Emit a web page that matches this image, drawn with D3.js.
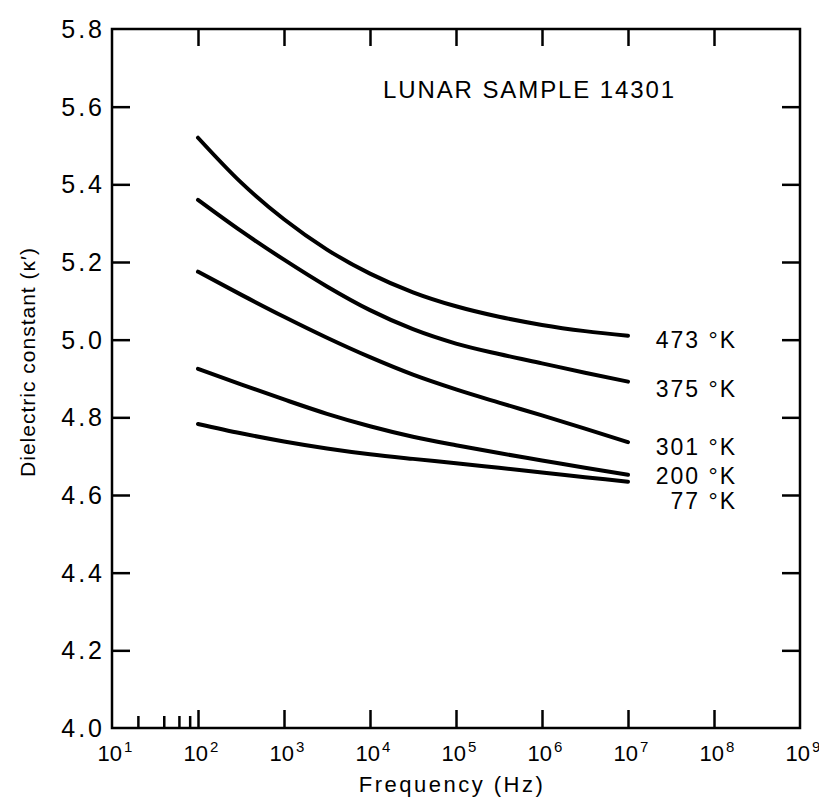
<!DOCTYPE html>
<html>
<head>
<meta charset="utf-8">
<script src="https://cdnjs.cloudflare.com/ajax/libs/d3/7.8.5/d3.min.js"></script>
<style>
  body { margin: 0; background: #fff; }
  svg { display: block; }
  text { font-family: "Liberation Sans", Arial, sans-serif; fill: #000; }
</style>
</head>
<body>
<svg></svg>
<script>
// frequency points (Hz), half-decade steps
const freqs = [1e2, 3.16e2, 1e3, 3.16e3, 1e4, 3.16e4, 1e5, 3.16e5, 1e6, 3.16e6, 1e7];

// dielectric constant for each temperature
const k473 = [5.52, 5.405, 5.31, 5.232, 5.17, 5.122, 5.086, 5.059, 5.038, 5.022, 5.01];
const k375 = [5.36, 5.28, 5.206, 5.137, 5.076, 5.027, 4.99, 4.963, 4.939, 4.915, 4.892];
const k301 = [5.175, 5.116, 5.059, 5.005, 4.955, 4.91, 4.872, 4.838, 4.805, 4.771, 4.736];
const k200 = [4.925, 4.885, 4.846, 4.809, 4.777, 4.75, 4.728, 4.708, 4.689, 4.67, 4.652];
const k77  = [4.783, 4.759, 4.738, 4.72, 4.705, 4.693, 4.682, 4.67, 4.658, 4.646, 4.634];

const seriesLabels = ["473 °K", "375 °K", "301 °K", "200 °K", "77 °K"];
const labelAt = [4.979, 4.852, 4.703, 4.628, 4.565];   // label baselines in κ' units

const xTickExp = [1, 2, 3, 4, 5, 6, 7, 8, 9];
const xMinor = [20, 40, 60, 80];
const yTicks = [4.0, 4.2, 4.4, 4.6, 4.8, 5.0, 5.2, 5.4, 5.6, 5.8];

const W = 819, H = 804;
const mLeft = 112, mRight = 800, mTop = 29, mBottom = 728;

const svg = d3.select("svg").attr("width", W).attr("height", H);

const x = d3.scaleLog().domain([1e1, 1e9]).range([mLeft, mRight]);
const y = d3.scaleLinear().domain([4.0, 5.8]).range([mBottom, mTop]);

// frame
svg.append("rect")
  .attr("x", mLeft).attr("y", mTop)
  .attr("width", mRight - mLeft).attr("height", mBottom - mTop)
  .attr("fill", "none").attr("stroke", "#000").attr("stroke-width", 2.5);

// inward ticks with d3 axes
const majors = xTickExp.slice(1, -1).map(e => Math.pow(10, e));
function styleAxis(g) {
  g.select(".domain").remove();
  g.selectAll(".tick line").attr("stroke", "#000").attr("stroke-width", 2.5);
  g.selectAll(".tick text").remove();
}
svg.append("g").attr("transform", `translate(0,${mBottom})`)
  .call(d3.axisBottom(x).tickValues(majors).tickSize(-18)).call(styleAxis);
svg.append("g").attr("transform", `translate(0,${mBottom})`)
  .call(d3.axisBottom(x).tickValues(xMinor).tickSize(-12)).call(styleAxis);
svg.append("g").attr("transform", `translate(0,${mTop})`)
  .call(d3.axisTop(x).tickValues(majors).tickSize(-17)).call(styleAxis);
const yInner = yTicks.slice(1, -1);
svg.append("g").attr("transform", `translate(${mLeft},0)`)
  .call(d3.axisLeft(y).tickValues(yInner).tickSize(-18)).call(styleAxis);
svg.append("g").attr("transform", `translate(${mRight},0)`)
  .call(d3.axisRight(y).tickValues(yInner).tickSize(-18)).call(styleAxis);

// y tick labels
svg.append("g").selectAll("text")
  .data(yTicks).enter().append("text")
  .attr("x", mLeft - 7)
  .attr("y", d => y(d) + 9)
  .attr("text-anchor", "end")
  .attr("font-size", 25)
  .attr("letter-spacing", 3)
  .text(d => d.toFixed(1));

// x tick labels 10^n
const xl = svg.append("g").selectAll("text")
  .data(xTickExp).enter().append("text")
  .attr("x", d => x(Math.pow(10, d)) + 3)
  .attr("y", 761)
  .attr("text-anchor", "middle")
  .attr("font-size", 22);
xl.append("tspan").text("10");
xl.append("tspan").attr("font-size", 15).attr("dx", 2).attr("dy", -9).text(d => d);

// axis titles
svg.append("text")
  .attr("x", 452).attr("y", 792)
  .attr("text-anchor", "middle")
  .attr("font-size", 22)
  .attr("letter-spacing", 2.5)
  .text("Frequency (Hz)");

svg.append("text")
  .attr("transform", "translate(35,362) rotate(-90)")
  .attr("text-anchor", "middle")
  .attr("font-size", 21)
  .attr("letter-spacing", 1)
  .text("Dielectric constant (κ′)");

// sample title
svg.append("text")
  .attr("x", 383).attr("y", 98)
  .attr("font-size", 24)
  .attr("letter-spacing", 1.9)
  .text("LUNAR SAMPLE 14301");

// curves
const series = [k473, k375, k301, k200, k77];
const line = d3.line()
  .x((d, i) => x(freqs[i]))
  .y(d => y(d))
  .curve(d3.curveMonotoneX);

svg.append("g").selectAll("path")
  .data(series).enter().append("path")
  .attr("d", line)
  .attr("fill", "none")
  .attr("stroke", "#000")
  .attr("stroke-width", 4)
  .attr("stroke-linecap", "round");

// temperature labels
svg.append("g").selectAll("text")
  .data(seriesLabels).enter().append("text")
  .attr("x", 737)
  .attr("y", (d, i) => y(labelAt[i]))
  .attr("text-anchor", "end")
  .attr("font-size", 23)
  .attr("letter-spacing", 2)
  .text(d => d);
</script>
</body>
</html>
